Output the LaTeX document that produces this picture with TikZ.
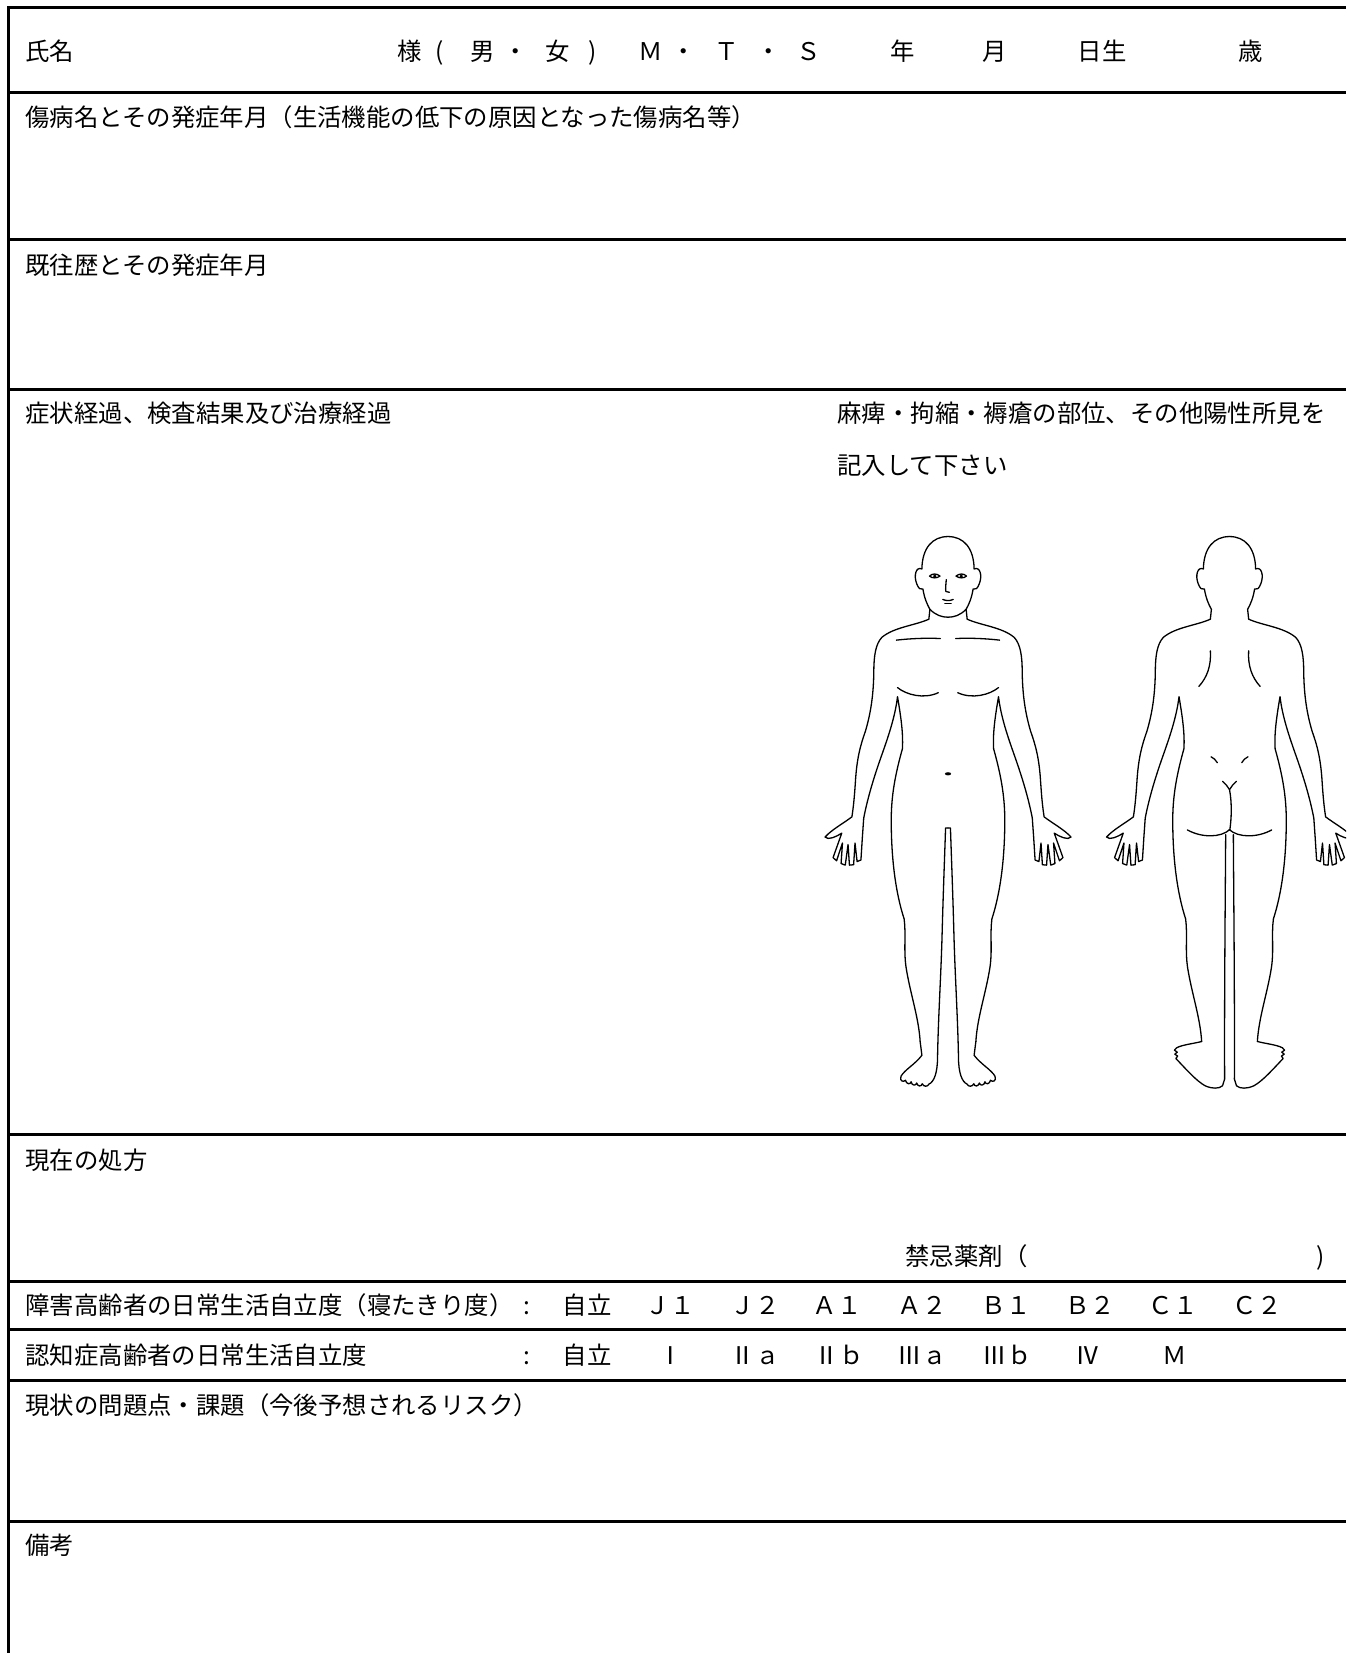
\documentclass[tikz,border=0pt]{standalone}
\usepackage{fontspec}
\setmainfont{Noto Sans CJK JP}

\tikzset{
  formtext/.style={font=\fontsize{12.2pt}{14pt}\selectfont, inner sep=0pt, text=black, anchor=base},
  rowlabel/.style={formtext, anchor=base west},
  ruleline/.style={line width=1.5pt},
  bodyline/.style={line width=0.65pt, line join=round, line cap=round}
}

\begin{document}
\begin{tikzpicture}[x=0.5pt,y=-0.5pt]
    \pgfmathsetmacro{\pagew}{1346}
    \pgfmathsetmacro{\pageh}{1653}
    \pgfmathsetmacro{\leftx}{8}
    \pgfmathsetmacro{\textx}{25}
    \pgfmathsetmacro{\figsx}{0.3483}
    \pgfmathsetmacro{\figsy}{0.3954}
    % half outline of a figure, head top down to the outer ankle
    \providecommand{\bodyside}{(0,143)
      .. controls (-45,143) and (-74,172) .. (-75,225)
      .. controls (-92,218) and (-99,242) .. (-90,262)
      .. controls (-85,274) and (-79,279) .. (-72,276)
      .. controls (-68,298) and (-60,315) .. (-52,327)
      -- (-55,352)
      .. controls (-95,368) and (-155,372) .. (-190,398)
      .. controls (-208,415) and (-213,445) .. (-213,485)
      .. controls (-214,545) and (-222,590) .. (-237,635)
      .. controls (-252,672) and (-262,705) .. (-266,765)
      .. controls (-269,805) and (-272,830) .. (-276,852)
      .. controls (-300,868) and (-335,885) .. (-353,903)
      .. controls (-345,912) and (-320,902) .. (-305,893)
      -- (-330,955) -- (-320,963) -- (-303,918)
      -- (-307,970) -- (-295,974) -- (-287,922)
      -- (-283,974) -- (-271,973) -- (-267,918)
      -- (-261,965) -- (-250,961) -- (-246,905)
      -- (-242,855)
      .. controls (-230,800) and (-210,745) .. (-192,700)
      .. controls (-172,650) and (-152,600) .. (-145,548)
      .. controls (-136,595) and (-128,640) .. (-131,680)
      .. controls (-150,740) and (-163,795) .. (-163,860)
      .. controls (-163,960) and (-150,1045) .. (-126,1110)
      .. controls (-120,1150) and (-128,1190) .. (-120,1235)
      .. controls (-108,1300) and (-84,1360) .. (-80,1420)}
    \providecommand{\frontfoot}{(-80,1420) -- (-75,1455)
      .. controls (-95,1478) and (-125,1492) .. (-135,1508)
      .. controls (-140,1520) and (-128,1524) .. (-122,1518)
      .. controls (-120,1528) and (-108,1530) .. (-106,1522)
      .. controls (-104,1532) and (-92,1533) .. (-90,1525)
      .. controls (-88,1534) and (-76,1535) .. (-74,1527)
      .. controls (-70,1535) and (-58,1535) .. (-55,1528)
      .. controls (-40,1522) and (-30,1500) .. (-30,1458)
      .. controls (-28,1360) and (-20,1250) .. (-17,1150)
      .. controls (-14,1050) and (-10,960) .. (-7,880) -- (0,880)}
    \providecommand{\backfoot}{(-80,1420)
      .. controls (-100,1425) and (-135,1428) .. (-152,1436)
      -- (-158,1442) -- (-150,1447) -- (-157,1452) -- (-149,1457) -- (-154,1463)
      .. controls (-125,1490) and (-95,1520) .. (-70,1532)
      .. controls (-50,1540) and (-30,1540) .. (-20,1532)
      -- (-14,1515)
      .. controls (-15,1300) and (-12,1050) .. (-11,897)}

    \clip (0,0) rectangle (\pagew,\pageh);
    \fill[white] (0,0) rectangle (\pagew,\pageh);

    % form frame
    \draw[ruleline] (\leftx,\pageh) -- (\leftx,8) -- (\pagew,8);
    \foreach \ry in {93,240,389,1134,1281,1329,1380,1521}
        \draw[ruleline] (\leftx,\ry) -- (\pagew,\ry);

    % name row
    \node[rowlabel] (name) at (\textx,61) {氏名};
    \foreach \tokx/\toktxt [count=\toki] in {410/様,440/{(},483/男,516/・,558/女,593/{)},651/Ｍ,684/・,727/Ｔ,769/・,809/Ｓ,903/年,995/月,1102/日生,1251/歳}
        \node[formtext] (head\toki) at (\tokx,61) {\toktxt};

    \node[rowlabel] (injury) at (\textx,127) {傷病名とその発症年月（生活機能の低下の原因となった傷病名等）};
    \node[rowlabel] (history) at (\textx,274) {既往歴とその発症年月};
    \node[rowlabel] (course) at (\textx,422) {症状経過、検査結果及び治療経過};
    \node[rowlabel] (findings) at (837,422) {麻痺・拘縮・褥瘡の部位、その他陽性所見を};
    \node[rowlabel] (findingsb) at (837,474) {記入して下さい};
    \node[rowlabel] (rx) at (\textx,1169) {現在の処方};
    \node[rowlabel] (contra) at (905,1265) {禁忌薬剤（};
    \node[formtext] (contraend) at (1321,1265) {)};

    \node[rowlabel] (bedrid) at (\textx,1314) {障害高齢者の日常生活自立度（寝たきり度）};
    \node[formtext] (bedcolon) at (527,1314) {:};
    \foreach \gx/\gtxt [count=\gi] in {587/自立,670/Ｊ１,755/Ｊ２,837/Ａ１,922/Ａ２,1006/Ｂ１,1090/Ｂ２,1173/Ｃ１,1257/Ｃ２}
        \node[formtext] (bed\gi) at (\gx,1314) {\gtxt};

    \node[rowlabel] (dementia) at (\textx,1364) {認知症高齢者の日常生活自立度};
    \node[formtext] (demcolon) at (527,1364) {:};
    \foreach \gx/\gtxt [count=\gi] in {587/自立,671/Ⅰ,755/Ⅱａ,839/Ⅱｂ,922/Ⅲａ,1007/Ⅲｂ,1088/Ⅳ,1175/Ｍ}
        \node[formtext] (dem\gi) at (\gx,1364) {\gtxt};

    \node[rowlabel] (issues) at (\textx,1414) {現状の問題点・課題（今後予想されるリスク）};
    \node[rowlabel] (remarks) at (\textx,1554) {備考};

    % front figure
    \begin{scope}[shift={(948,480)}, xscale=\figsx, yscale=\figsy]
        \foreach \side in {1,-1} {
            \begin{scope}[xscale=\side]
                \draw[bodyline] \bodyside;
                \draw[bodyline] \frontfoot;
                \draw[bodyline] (-52,327) .. controls (-35,342) and (-18,347) .. (0,347);
                \draw[bodyline] (-53,243) .. controls (-46,236) and (-32,236) .. (-23,243)
                    .. controls (-32,249) and (-46,249) .. (-53,243) -- cycle;
                \fill (-38,243) ellipse [x radius=5, y radius=4.5];
                \draw[bodyline] (-148,405) .. controls (-110,401) and (-60,399) .. (-22,401);
                \draw[bodyline] (-145,525) .. controls (-120,543) and (-70,555) .. (-28,538);
            \end{scope}
        }
        \draw[bodyline] (-5,252) .. controls (-6,265) and (-8,275) .. (-6,282) -- (4,284);
        \draw[bodyline] (-15,302) .. controls (-5,306) and (5,306) .. (15,302);
        \draw[bodyline] (-9,312) -- (9,312);
        \fill (0,743) ellipse [x radius=9, y radius=4];
    \end{scope}

    % back figure
    \begin{scope}[shift={(1229.5,480)}, xscale=\figsx, yscale=\figsy]
        \foreach \side in {1,-1} {
            \begin{scope}[xscale=\side]
                \draw[bodyline] \bodyside;
                \draw[bodyline] \backfoot;
                \draw[bodyline] (-55,432) .. controls (-52,470) and (-65,500) .. (-88,522);
                \draw[bodyline] (-53,700) .. controls (-45,703) and (-40,708) .. (-35,715);
                \draw[bodyline] (-121,885) .. controls (-80,905) and (-25,905) .. (1,884);
                \draw[bodyline] (-20,762) .. controls (-12,768) and (-5,775) .. (0,783);
            \end{scope}
        }
        \draw[bodyline] (0,783) .. controls (8,820) and (5,860) .. (1,884);
    \end{scope}
\end{tikzpicture}
\end{document}
